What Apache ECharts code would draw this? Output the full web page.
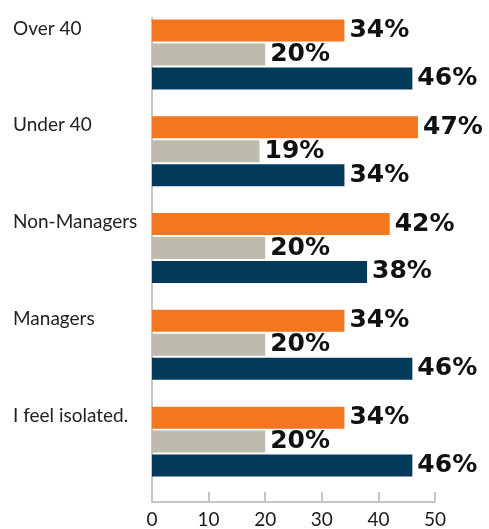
<!DOCTYPE html>
<html>
<head>
<meta charset="utf-8">
<script src="https://cdn.jsdelivr.net/npm/echarts@6/dist/echarts.min.js"></script>
<style>
  html, body { margin: 0; padding: 0; background: #ffffff; }
  #chart { width: 489px; height: 529px; }
</style>
</head>
<body>
<div id="chart"></div>
<script>
// Groups, top to bottom
const categories = ['Over 40', 'Under 40', 'Non-Managers', 'Managers', 'I feel isolated.'];
// Three answers per group (percent)
const orangeValues = [34, 47, 42, 34, 34];
const grayValues = [20, 19, 20, 20, 20];
const navyValues = [46, 34, 38, 46, 46];
const xTicks = [0, 10, 20, 30, 40, 50];

const colors = { orange: '#F37721', gray: '#BEBAAE', navy: '#03395B' };

const valueLabel = {
  show: true,
  position: 'right',
  distance: 5,
  formatter: p => p.value + '%',
  color: '#111111',
  fontFamily: 'DejaVu Sans',
  fontWeight: 'bold',
  fontSize: 25
};

function barSeries(name, values, color) {
  return {
    name: name,
    type: 'bar',
    data: values,
    barWidth: 22,
    barGap: '9%',
    itemStyle: { color: color },
    label: valueLabel,
    silent: true
  };
}

const chart = echarts.init(document.getElementById('chart'), null, { renderer: 'canvas' });
chart.setOption({
  animation: false,
  grid: { left: 152, right: 54, top: 18, bottom: 26, containLabel: false },
  xAxis: {
    type: 'value',
    min: xTicks[0],
    max: xTicks[xTicks.length - 1],
    interval: 10,
    splitLine: { show: false },
    axisLine: { show: true, lineStyle: { color: '#c6c6c6', width: 2 } },
    axisTick: { show: true, inside: true, length: 10, lineStyle: { color: '#c6c6c6', width: 2 } },
    axisLabel: { color: '#1a1a1a', fontFamily: 'Lato', fontSize: 19, margin: 8 }
  },
  yAxis: {
    type: 'category',
    data: categories,
    inverse: true,
    axisLine: { show: true, lineStyle: { color: '#c6c6c6', width: 2 } },
    axisTick: { show: false },
    axisLabel: {
      align: 'left',
      verticalAlign: 'middle',
      margin: 139,
      color: '#222222',
      fontFamily: 'Lato',
      fontSize: 19,
      lineHeight: 19,
      // blank lines below lift each name up beside its orange bar
      formatter: v => v + '\n\n\n\n'
    }
  },
  series: [
    barSeries('orange', orangeValues, colors.orange),
    barSeries('gray', grayValues, colors.gray),
    barSeries('navy', navyValues, colors.navy),
    // empty slot below each trio keeps the bars near the top of their band
    { name: 'spacer', type: 'bar', data: categories.map(() => '-'), barWidth: 22, barGap: '9%', silent: true }
  ]
});
</script>
</body>
</html>
